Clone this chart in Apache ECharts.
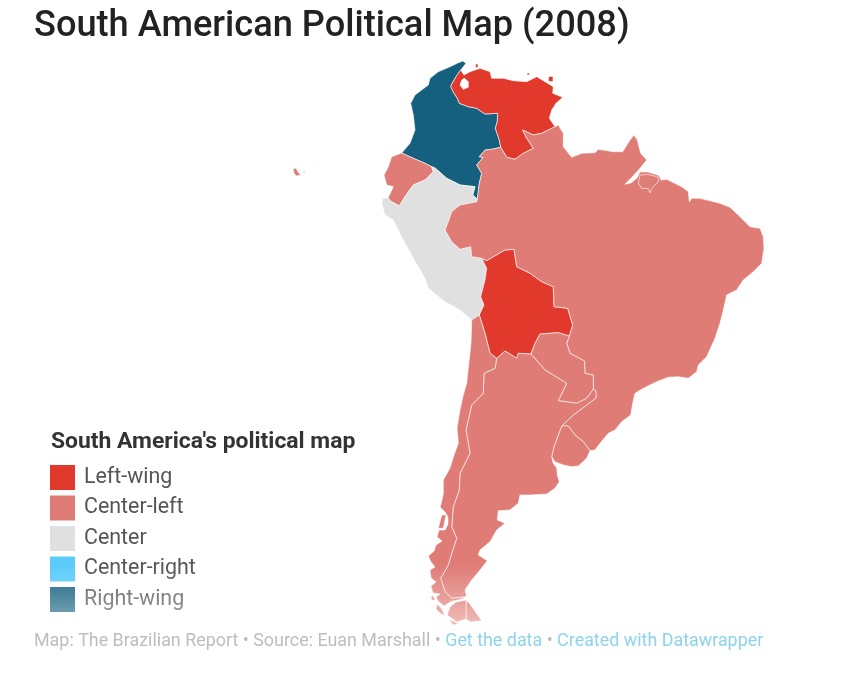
<!DOCTYPE html>
<html>
<head>
<meta charset="utf-8">
<title>South American Political Map (2008)</title>
<script src="https://cdn.jsdelivr.net/npm/echarts@6/dist/echarts.min.js"></script>
<style>
  html, body { margin: 0; padding: 0; background: #fff; }
  #main { width: 857px; height: 673px; }
</style>
</head>
<body>
<div id="main"></div>
<script>
// legend classes, in legend order
var LEANINGS = ['Left-wing', 'Center-left', 'Center', 'Center-right', 'Right-wing'];
var LEANING_COLORS = ['#e1392c', '#e07c76', '#e0e0e0', '#5accfb', '#15607f'];

var COUNTRIES = ['Colombia', 'Venezuela', 'Ecuador', 'Peru', 'Bolivia', 'Brazil', 'Paraguay', 'Uruguay', 'Argentina', 'Chile'];
var COUNTRY_LEANING = [4, 0, 1, 2, 0, 1, 1, 1, 1, 1];

// outlines, planar map units (y down).
// shared borders are kept once and reused so neighbours meet exactly
var COL_VEN = [[460.7,70],[456,76.7],[450.7,86],[453,91.7],[457.3,98.3],[459.3,103.3],[468.3,106.7],[476.7,108.3],[485,114],[497.7,113.3],[497.3,121.7],[495.3,128.3],[499.3,140],[500.7,147.3]];
var COL_BRA = [[500.7,147.3],[491.7,149.3],[485,150],[479.3,156.7],[483,157.5],[476.7,165],[481.7,173.3],[479.3,183.3],[477.3,199.3]];
var COL_PER = [[477.3,199.3],[472.7,195],[475,186.7],[460,185],[446.7,178.3],[435,168],[431.7,166.7]];
var COL_ECU = [[431.7,166.7],[425,163.3],[413.3,158.3],[401.7,153]];
var COL_COAST = [[401.7,153],[410,143.3],[415,130],[413.3,115],[410.7,103.3],[415,95],[428.3,85],[430,78.3],[438.3,71.7],[450,66.7],[457.3,63.3],[462.7,61],[466,63.3],[460.7,70]];

var VEN_COAST = [[460.7,70],[464,75],[470,71.7],[480,68.3],[490,71.7],[491.7,78.3],[503.3,78.3],[513.3,80.7],[526.7,81.7],[536.7,76.7],[545,81.7],[553.3,86.7],[552.7,93.3],[562.7,97.3],[556,103.3],[551.7,110],[549.3,118.3],[555,126.7]];
var VEN_BRA = [[555,126.7],[541.7,133.3],[533.3,135],[522.7,130],[526.7,138.3],[533.3,148.3],[523.3,153.3],[515,159.3],[506.7,157.3],[500.7,147.3]];
var VEN_LAKE = [[464.3,78.3],[468.3,81.7],[468.3,87.3],[463.3,89.3],[460,85],[461.7,80]];
var VEN_ISLANDS = [
  [[475.5,64],[478,64],[478,67.5],[475.5,67.5]],
  [[548.5,76.5],[553,76.5],[553,81.5],[548.5,81.5]],
  [[527,73],[529.5,73],[529.5,75],[527,75]]
];

var BRA_COAST = [[555,126.7],[558.3,125],[563.3,133.3],[563.3,146.7],[571.7,157.3],[581.7,153.3],[595,152.7],[598.3,149.3],[613.3,151.7],[622.7,151.7],[630,140],[634,135],[637.3,140],[640.7,153.3],[646.7,160],[640,168.3],[634,175],[625,184.3],[631,183],[637,178],[640,172],[648,172],[659,175.5],[661,180],[666.7,179.3],[681.7,186.7],[688.3,191.7],[689.3,201.7],[691.7,198.3],[700,198.3],[720,203.3],[730,207.3],[740,216.7],[750,226.7],[760,228.3],[763.3,236.7],[764,248.3],[761.7,263.3],[753.3,271.7],[743.3,280],[736.7,290],[726.7,295],[723.3,310],[720,323.3],[715,338.3],[706.7,356.7],[698.3,365],[696.7,371.7],[688.3,378.3],[678.3,376.7],[668.3,377.3],[656.7,381.7],[643.3,388.3],[635,393.3],[632.7,403.3],[630.7,415],[621.7,421.7],[615,430],[608.3,433.3],[600,443.3],[595,450],[590,450.7]];
var BRA_MARAJO = [[640,175],[648,174.5],[658.3,177],[658.3,181.7],[651.7,188.3],[650,193],[648,188.5],[641.7,188.3],[638.3,183.3]];
var BRA_URY = [[590,450.7],[583.3,441.7],[575,435],[568.3,426],[561.7,426]];
var ARG_BRA = [[561.7,426],[573.3,415],[586.7,405],[596,398],[596,391],[593.3,389.3]];
var BRA_PRY = [[593.3,389.3],[593.3,375],[585,373.3],[584.5,361],[570,353.3],[566.7,343.3],[569.3,336]];
var BOL_BRA = [[569.3,336],[572.7,325],[567.7,308.3],[554,306.7],[553.3,286.7],[541.7,281.7],[530,273.3],[516.7,266.7],[514,249.3],[505,250],[493.3,256.7],[486.7,260.7],[481.7,258.3]];
var PER_BRA = [[481.7,258.3],[471.7,256.7],[470.7,246.7],[460,249.3],[451.7,241.7],[445,230],[448.3,221.7],[451.7,211.7],[460,205],[476.7,201.7],[477.3,199.3]];

var PRY_BOL = [[531,354],[535,343.3],[540,334],[558.3,332.7],[569.3,336]];
var ARG_PRY = [[593.3,389.3],[586.7,398.3],[576.7,403.3],[558.3,400.7],[566.7,383.3],[545,370],[531,354]];
var ARG_BOL = [[531,354],[518.3,353.3],[516.7,358.3],[505,351],[496.7,358.3]];
var CHL_BOL = [[496.7,358.3],[490,353.3],[485,333.3],[479.3,315]];
var PER_BOL = [[479.3,315],[484,305],[480.7,296.7],[485,280],[486.7,268.3],[481.7,258.3]];

var PER_COAST = [[479.3,315],[471.7,320],[460,310],[445,301.7],[428.3,288.3],[425,278.3],[413.3,258.3],[403.3,240],[393.3,220],[385,215],[381.7,203.3],[383,198],[388,198]];
var ECU_PER = [[388,198],[392,202],[399.3,206],[405,196.7],[413.3,185],[425,180],[433.3,171.7],[431.7,166.7]];
var ECU_COAST = [[388,198],[393.3,186.7],[386.7,185],[384,175],[388.3,166.7],[391.7,156.7],[401.7,153]];
var ECU_GALAPAGOS = [
  [[293,169],[296,168],[298,172],[301,175],[296,176],[294,173]],
  [[303,171],[305,172],[304,174]]
];

var URY_COAST = [[590,450.7],[586.7,458.3],[578.3,466],[571.7,466.7],[563.3,465],[555,461.7],[551.7,456.7]];
var ARG_URY = [[561.7,426],[558.3,435],[554,446.7],[551.7,456.7]];
var ARG_COAST = [[551.7,456.7],[553,463],[556.7,468],[557.3,475],[559.3,481.7],[555,488.3],[546.7,494],[530,495],[520,495],[518.3,503.3],[510,510],[498.3,510.7],[497.3,520],[505,523.3],[496.7,530],[490,541.7],[480,550],[478.3,555],[487.3,560.7],[480,570],[471.7,580],[465,590],[466.7,596.7]];
var ARG_FUEGO = [[466,600],[470,604],[481.7,620.7],[471,622],[466,619]];
var CHL_ARG = [[496.7,358.3],[495,368.3],[484,373.3],[483.3,393.3],[471.7,405],[466,430],[470,453.3],[460,473.3],[459.3,490],[453.3,506.7],[451.7,526.7],[456.7,538.3],[451.7,553.3],[448.3,565],[440.7,578.3],[445,591.7],[451.7,598.3],[466.7,596.7]];
var CHL_COAST = [[466.7,596.7],[460,599.5],[451,601.5],[444,606],[438,601],[436,597],[440,594],[433,593],[431,586],[436,582],[431,578],[430,570],[435,567],[431,562],[428.3,556],[434,551],[436,545],[442,541],[437,537],[439,530],[445,530],[448,524],[448,517],[445,512],[440,507],[441.7,501.7],[443.3,493],[443.3,480],[450,468],[454,455],[458.3,443.3],[457,428],[460,410],[463,396],[466.7,383.3],[469,361.7],[471,343],[471.7,320]];
var CHL_ISLANDS = [
  [[441.7,515],[446,515],[443.3,528.3],[438.3,528.3]],
  [[456,602],[466,600],[466,619],[457,622],[447,615],[450,607]],
  [[437,604],[441,608],[445,615],[441,614],[436,609]],
  [[449,619],[455,622],[459,624],[453,625]],
  [[432,595],[435,599],[433,601],[431,598]]
];

function rev(line) {
    return line.slice().reverse();
}

function ring() {
    var out = [];
    for (var i = 0; i < arguments.length; i++) {
        out = out.concat(arguments[i]);
    }
    return out;
}

function polygons(main, extra) {
    var list = [main];
    for (var i = 0; i < extra.length; i++) {
        list.push([extra[i]]);
    }
    return list;
}

var SHAPES = {
    Colombia: [[ring(COL_VEN, COL_BRA, COL_PER, COL_ECU, COL_COAST)]],
    Venezuela: polygons([ring(VEN_COAST, VEN_BRA, rev(COL_VEN)), rev(VEN_LAKE)], VEN_ISLANDS),
    Ecuador: polygons([ring(rev(ECU_PER), ECU_COAST, rev(COL_ECU))], ECU_GALAPAGOS),
    Peru: [[ring(rev(PER_BRA), rev(PER_BOL), PER_COAST, ECU_PER, rev(COL_PER))]],
    Bolivia: [[ring(rev(BOL_BRA), rev(PRY_BOL), ARG_BOL, CHL_BOL, PER_BOL)]],
    Brazil: polygons([ring(BRA_COAST, BRA_URY, ARG_BRA, BRA_PRY, BOL_BRA, PER_BRA, rev(COL_BRA), rev(VEN_BRA))], [BRA_MARAJO]),
    Paraguay: [[ring(rev(BRA_PRY), ARG_PRY, PRY_BOL)]],
    Uruguay: [[ring(rev(BRA_URY), URY_COAST, rev(ARG_URY))]],
    Argentina: polygons([ring(rev(ARG_BOL), rev(ARG_PRY), rev(ARG_BRA), ARG_URY, ARG_COAST, rev(CHL_ARG))], [ARG_FUEGO]),
    Chile: polygons([ring(rev(CHL_BOL), CHL_ARG, CHL_COAST)], CHL_ISLANDS)
};

function makeGeoJson() {
    var features = [];
    for (var i = 0; i < COUNTRIES.length; i++) {
        features.push({
            type: 'Feature',
            properties: { name: COUNTRIES[i] },
            geometry: { type: 'MultiPolygon', coordinates: SHAPES[COUNTRIES[i]] }
        });
    }
    return { type: 'FeatureCollection', features: features };
}

function makeSeriesData() {
    var data = [];
    for (var i = 0; i < COUNTRIES.length; i++) {
        data.push({ name: COUNTRIES[i], value: COUNTRY_LEANING[i] });
    }
    return data;
}

function makePieces() {
    var pieces = [];
    for (var i = 0; i < LEANINGS.length; i++) {
        pieces.push({ value: i, label: LEANINGS[i], color: LEANING_COLORS[i] });
    }
    return pieces;
}

echarts.registerMap('southAmerica', makeGeoJson());

var chart = echarts.init(document.getElementById('main'));

chart.setOption({
    animation: false,
    backgroundColor: '#fff',
    title: [{
        text: 'South American Political Map (2008)',
        left: 34, top: 9, padding: 0,
        textStyle: { fontFamily: 'Roboto', fontSize: 36.2, fontWeight: 500, color: '#222' }
    }, {
        text: "South America's political map",
        left: 51, top: 431, padding: 0,
        textStyle: { fontFamily: 'Roboto', fontSize: 22.9, fontWeight: 700, color: '#333' }
    }, {
        text: '{grey|Map: The Brazilian Report • Source: Euan Marshall • }{link|Get the data}{grey| • }{link|Created with Datawrapper}',
        left: 34, top: 633, padding: 0, z: 20,
        textStyle: {
            fontFamily: 'Roboto', fontSize: 17.9, fontWeight: 400,
            rich: {
                grey: { fontFamily: 'Roboto', fontSize: 17.9, fontWeight: 400, color: '#bdbdbd' },
                link: { fontFamily: 'Roboto', fontSize: 17.9, fontWeight: 400, color: '#8dd3ee' }
            }
        }
    }],
    visualMap: {
        type: 'piecewise',
        seriesIndex: 0,
        left: 50, top: 465, padding: 0,
        inverse: true,
        orient: 'vertical',
        itemWidth: 25, itemHeight: 25, itemGap: 5.5, textGap: 9,
        itemSymbol: 'rect',
        selectedMode: false,
        hoverLink: false,
        pieces: makePieces(),
        textStyle: { fontFamily: 'Roboto', fontSize: 21.4, color: '#555' }
    },
    graphic: [{
        // the source fades out towards the bottom edge
        type: 'rect', silent: true, z: 10,
        shape: { x: 0, y: 565, width: 857, height: 75 },
        style: {
            fill: new echarts.graphic.LinearGradient(0, 0, 0, 1, [
                { offset: 0, color: 'rgba(255,255,255,0)' },
                { offset: 1, color: 'rgba(255,255,255,0.6)' }
            ])
        }
    }],
    series: [{
        type: 'map',
        map: 'southAmerica',
        projection: {
            project: function (p) { return p; },
            unproject: function (p) { return p; }
        },
        boundingCoords: [[0, 0], [857, 673]],
        left: 0, top: 0, width: 857, height: 673,
        roam: false,
        silent: true,
        selectedMode: false,
        label: { show: false },
        emphasis: { disabled: true },
        itemStyle: { borderColor: 'rgba(255,255,255,0.6)', borderWidth: 1 },
        data: makeSeriesData()
    }]
});
</script>
</body>
</html>
